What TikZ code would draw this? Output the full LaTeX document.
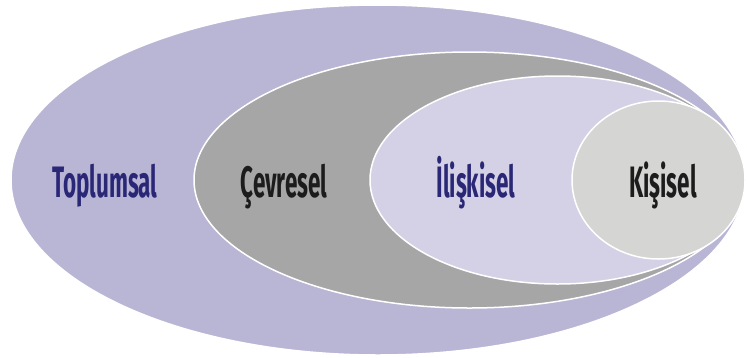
\documentclass[tikz,border=0pt]{standalone}
\usepackage{fontspec}
\usepackage{xcolor}
\newfontfamily\labelfont{Fira Sans}[FakeStretch=0.51]
\definecolor{qouter}{RGB}{185,181,213}
\definecolor{qgray}{RGB}{166,166,166}
\definecolor{qlight}{RGB}{212,209,230}
\definecolor{qpale}{RGB}{213,213,211}
\definecolor{qblue}{RGB}{42,40,118}
\definecolor{qdark}{RGB}{28,28,28}
\tikzset{
  ring/.style={draw=white, line width=1.5pt},
  lbl/.style={anchor=base, inner sep=0pt, font=\labelfont\bfseries\fontsize{44}{44}\selectfont}
}

\begin{document}
\begin{tikzpicture}[x=1pt,y=-1pt]
\useasboundingbox (0,0) rectangle (747,357);
\def\R{745}%common right edge
\def\cy{180}%centre height
\def\base{197}%text baseline

 \foreach \xl/\ry/\col in {11/175/qouter,194/128/qgray,370/104/qlight,572/79/qpale}
 {
   \fill[fill=\col, ring] ({(\R+\xl)/2},\cy) ellipse [x radius={(\R-\xl)/2}, y radius=\ry];
 }

 \node[lbl, text=qblue] (toplumsal) at (105,\base) {Toplumsal};
 \node[lbl, text=qdark] (cevresel) at (284,\base) {Çevresel};
 \node[lbl, text=qblue] (iliskisel) at (476,\base) {İlişkisel};
 \node[lbl, text=qdark] (kisisel) at (663,\base) {Kişisel};
\end{tikzpicture}
\end{document}
